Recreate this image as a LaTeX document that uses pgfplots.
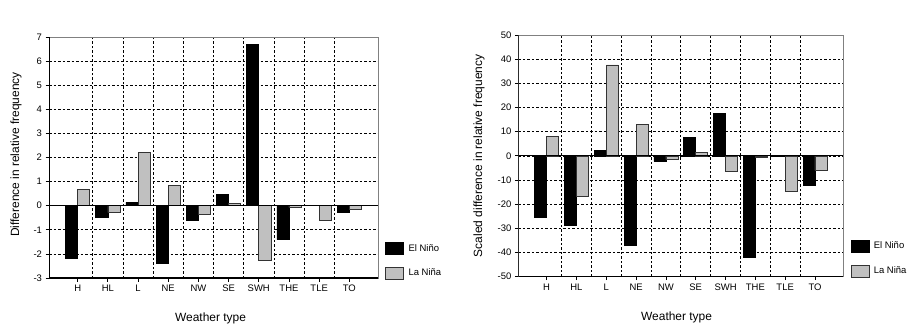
\documentclass[border=0pt]{standalone}
\usepackage{fontspec}
\setmainfont{Liberation Sans}
\usepackage{pgfplots}
\usepackage{pgfplotstable}
\pgfplotsset{compat=1.18}
\definecolor{lagray}{HTML}{C0C0C0}

\pgfplotstableread{
x elnino lanina
0 -2.17 0.68
1 -0.48 -0.29
2 0.14 2.20
3 -2.38 0.83
4 -0.62 -0.35
5 0.46 0.11
6 6.68 -2.28
7 -1.41 -0.07
8 0.00 -0.60
9 -0.26 -0.14
}\dataA

\pgfplotstableread{
x elnino lanina
0 -25.3 8.0
1 -28.9 -16.8
2 2.2 37.6
3 -37.1 12.9
4 -2.3 -1.6
5 7.6 1.5
6 17.6 -6.3
7 -42.1 -0.8
8 -0.3 -14.8
9 -12.1 -6.0
}\dataB

\pgfplotsset{
  panel/.style={
    scale only axis,
    anchor=south west,
    xmin=-0.95, xmax=9.95,
    xtick={0,...,9},
    xticklabels={H,HL,L,NE,NW,SE,SWH,THE,TLE,TO},
    minor xtick={0.5,1.5,...,8.5},
    xminorgrids=true, ymajorgrids=true,
    xtick pos=bottom, ytick pos=left,
    grid style={black, dash pattern=on 2.5bp off 2bp, line width=0.7bp},
    minor grid style={black, dash pattern=on 2.5bp off 2bp, line width=0.7bp},
    tick align=outside,
    major tick length=3.5bp, minor tick length=0pt,
    axis line style={gray, line width=0.8bp},
    tick style={black, line width=0.8bp},
    ticklabel style={font=\fontsize{9.5}{10}\selectfont},
    /pgf/number format/assume math mode=true,
    label style={font=\fontsize{12}{14}\selectfont},
    xlabel={Weather type},
    bar width=0.4,
    legend style={draw=none, fill=none, anchor=north west,
      font=\fontsize{9.5}{11}\selectfont, row sep=12bp, inner sep=0pt,
      nodes={inner sep=1.5bp},
      /tikz/every odd column/.append style={column sep=3bp}},
    legend cell align=left,
  },
  elstyle/.style={ybar, bar shift=-0.2, fill=black, draw=black, line width=0.6bp,
    legend image code/.code={\draw[fill=black,draw=black,line width=0.6bp] (0bp,-6bp) rectangle (18bp,6bp);}},
  lastyle/.style={ybar, bar shift=0.2, fill=lagray, draw=black!80, line width=0.6bp,
    legend image code/.code={\draw[fill=lagray,draw=black!80,line width=0.6bp] (0bp,-6bp) rectangle (18bp,6bp);}},
}

\begin{document}
\begin{tikzpicture}[x=1bp,y=1bp]
\useasboundingbox (0,0) rectangle (907,327);

\begin{axis}[panel,
  at={(49bp,49bp)}, width=329bp, height=241bp,
  ymin=-3, ymax=7, ytick={-3,...,7},
  ylabel={Difference in relative frequency},
  ylabel style={at={(axis description cs:-0.100,0.512)}, anchor=center},
  xlabel style={at={(axis description cs:0.491,-0.166)}, anchor=center},
  legend style={at={(axis description cs:1.022,0.150)}},
]
\addplot[elstyle] table[x=x,y=elnino]{\dataA};
\addlegendentry{El Niño}
\addplot[lastyle] table[x=x,y=lanina]{\dataA};
\addlegendentry{La Niña}
\draw[black, line width=0.9bp] (axis cs:-0.95,0) -- (axis cs:9.95,0);
\draw[black, line width=1.2bp] (rel axis cs:0,1) -- (rel axis cs:0,0) -- (rel axis cs:1,0);
\node[anchor=center, font=\fontsize{12}{14}\selectfont] at (axis description cs:0.012,1.079) {a};
\end{axis}

\begin{axis}[panel,
  at={(518.3bp,50.3bp)}, width=325bp, height=241.7bp,
  ymin=-50, ymax=50, ytick={-50,-40,...,50},
  ylabel={Scaled difference in relative frequency},
  ylabel style={at={(axis description cs:-0.121,0.5)}, anchor=center},
  xlabel style={at={(axis description cs:0.487,-0.167)}, anchor=center},
  legend style={at={(axis description cs:1.022,0.153)}},
]
\addplot[elstyle] table[x=x,y=elnino]{\dataB};
\addlegendentry{El Niño}
\addplot[lastyle] table[x=x,y=lanina]{\dataB};
\addlegendentry{La Niña}
\draw[black, line width=0.9bp] (axis cs:-0.95,0) -- (axis cs:9.95,0);
\draw[black, line width=1.2bp] (rel axis cs:0,1) -- (rel axis cs:0,0) -- (rel axis cs:1,0);
\node[anchor=center, font=\fontsize{12}{14}\selectfont] at (axis description cs:0.01,1.079) {b};
\end{axis}
\end{tikzpicture}
\end{document}
